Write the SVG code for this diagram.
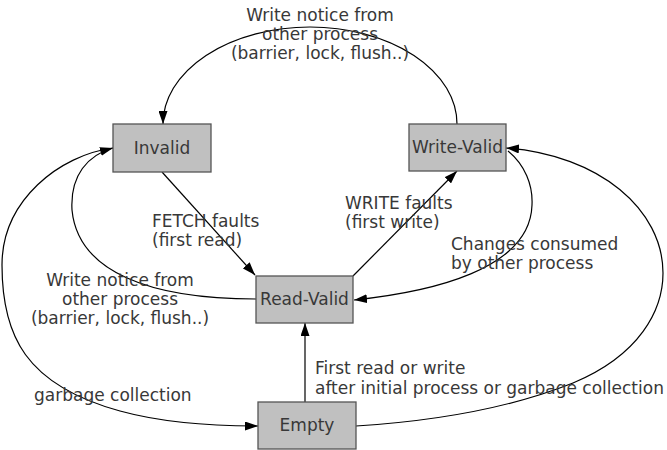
<svg xmlns="http://www.w3.org/2000/svg" width="667" height="450" viewBox="0 0 667 450">
<style>
.node rect{fill:#c0c0c0;stroke:#555;stroke-width:1.3}
text{font-family:"DejaVu Sans",sans-serif;font-size:17px;fill:#383838}
.nl{text-anchor:middle}
.edge{fill:none;stroke:#000;stroke-width:1.2;marker-end:url(#arr)}
</style>
<defs>
<marker id="arr" markerUnits="userSpaceOnUse" viewBox="0 0 13 9" refX="13" refY="4.5" markerWidth="13" markerHeight="9" orient="auto">
<path d="M0,0 L13,4.5 L0,9 z" fill="#000"/>
</marker>
</defs>
<rect width="667" height="450" fill="#fff"/>
<g id="connectors">
<path class="edge" d="M457,124 A147,97 0 0 0 163,124"/>
<path class="edge" d="M162,172 L255,275"/>
<path class="edge" d="M353,276 L457,171"/>
<path class="edge" d="M508,151 C525,165 533,185 532,205 C530,270 430,292 354,300"/>
<path class="edge" d="M256,299 C150,299 78,272 72,210 C70,175 88,155 113,148"/>
<path class="edge" d="M113,148 C60,155 2,200 2,265 C2,335 25,385 120,411 C160,422 210,426 258,426"/>
<path class="edge" d="M305,402 L305,323"/>
<path class="edge" d="M356,426 C420,422 500,412 573,383 C640,355 663,310 663,273 C663,210 600,155 506,148"/>
</g>
<g id="labels">
<text class="nl" x="320" y="21">Write notice from</text>
<text class="nl" x="320" y="40">other process</text>
<text class="nl" x="320" y="59">(barrier, lock, flush..)</text>
<text x="152" y="227">FETCH faults</text>
<text x="152" y="246">(first read)</text>
<text x="345" y="209">WRITE faults</text>
<text x="345" y="228">(first write)</text>
<text x="451" y="250">Changes consumed</text>
<text x="451" y="269">by other process</text>
<text class="nl" x="120" y="286">Write notice from</text>
<text class="nl" x="120" y="305">other process</text>
<text class="nl" x="120" y="324">(barrier, lock, flush..)</text>
<text x="315" y="374">First read or write</text>
<text x="315" y="394">after initial process or garbage collection</text>
<text x="34" y="401">garbage collection</text>
</g>
<g id="invalid" class="node"><rect x="113" y="124" width="98" height="48"/><text class="nl" x="162" y="154">Invalid</text></g>
<g id="write-valid" class="node"><rect x="409" y="124" width="97" height="47"/><text class="nl" x="457.5" y="153">Write-Valid</text></g>
<g id="read-valid" class="node"><rect x="256" y="276" width="97" height="47"/><text class="nl" x="304.5" y="305">Read-Valid</text></g>
<g id="empty" class="node"><rect x="258" y="402" width="98" height="47"/><text class="nl" x="307" y="431">Empty</text></g>
</svg>
